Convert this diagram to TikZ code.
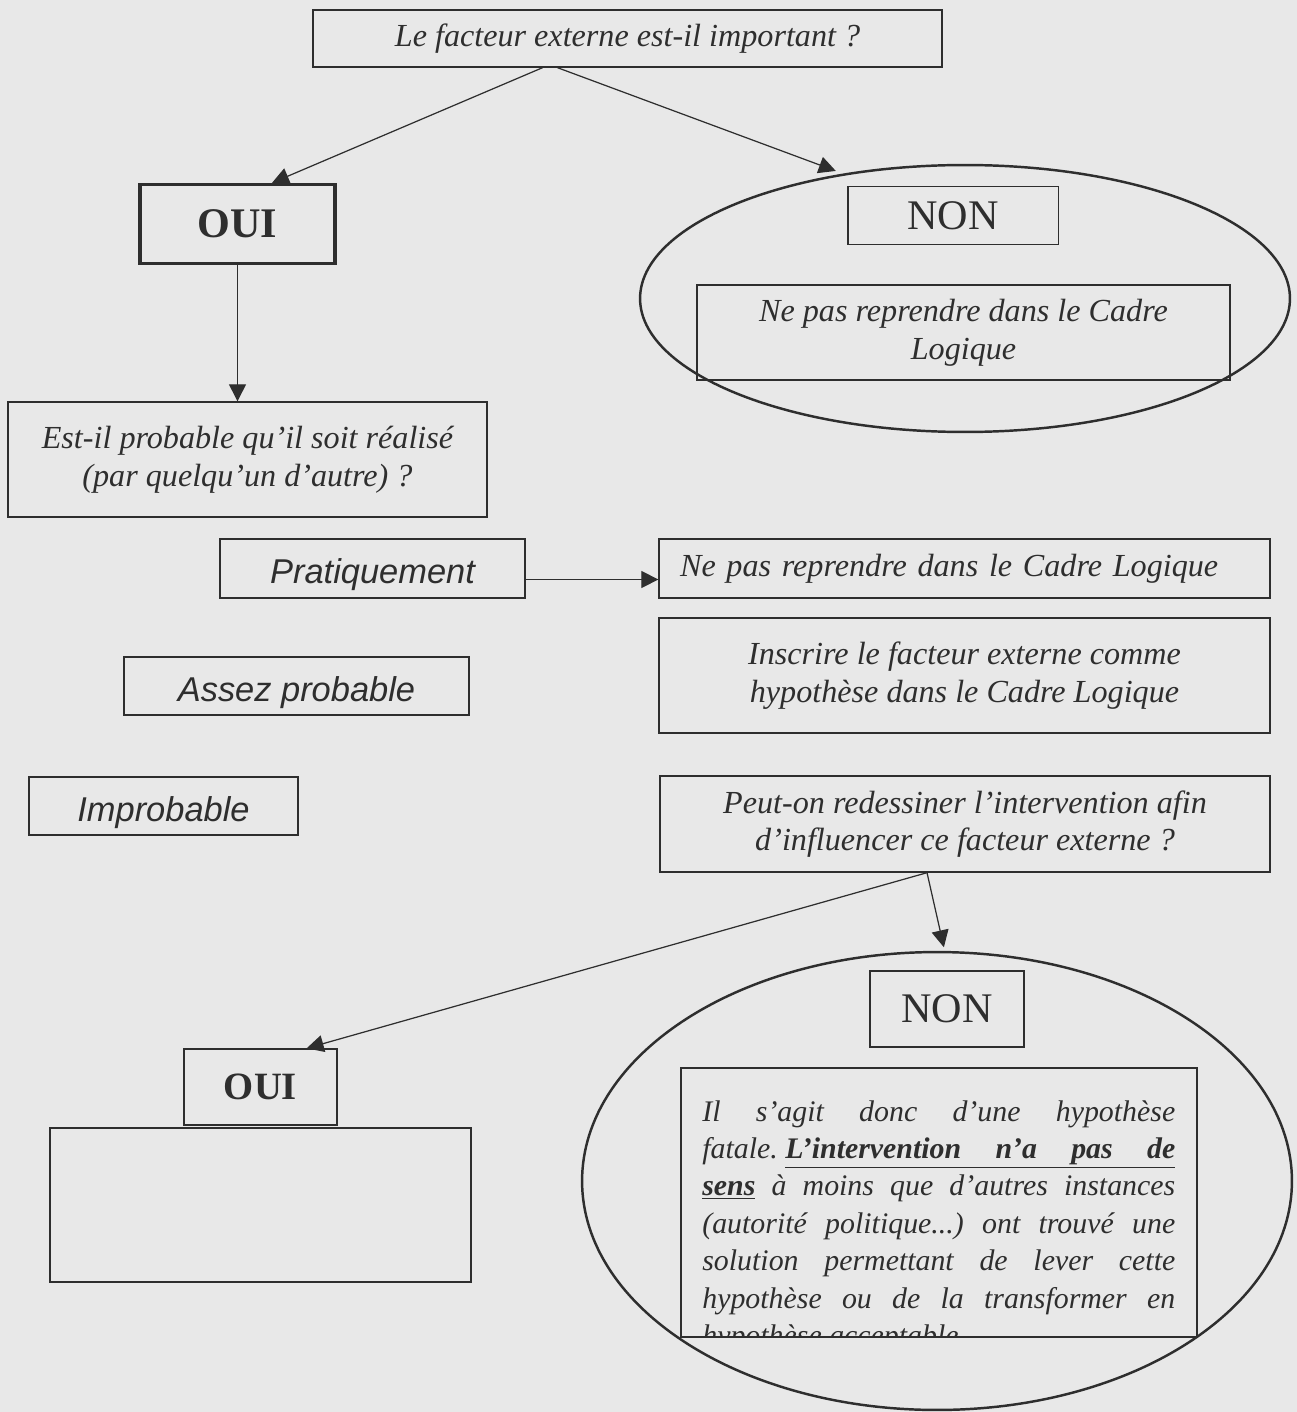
\documentclass[tikz,border=0pt]{standalone}
\usepackage{fontspec}
\setmainfont{Liberation Serif}
\newfontfamily\sansfamille{Liberation Sans}
\usetikzlibrary{arrows.meta, shapes.geometric}
\definecolor{papier}{gray}{0.91}
\definecolor{encre}{gray}{0.18}
\newsavebox{\boitefatale}
\newcommand{\textequestion}{\fontsize{18.3}{21.5}\selectfont\itshape}
\newcommand{\textecourant}{\fontsize{17}{21.3}\selectfont\itshape}
\newcommand{\textechoix}{\sansfamille\fontsize{19.6}{23}\selectfont\itshape}
\newcommand{\texteoui}{\fontsize{24}{28}\selectfont\bfseries}
\newcommand{\textenon}{\fontsize{24}{28}\selectfont}

\tikzset{
  cadre/.style={draw=encre, line width=0.8pt, inner sep=0pt, align=center, text=encre},
  question/.style={cadre, font=\textequestion},
  choix/.style={cadre, font=\textechoix, text height=0.76cm},
  reponse/.style={cadre, font=\texteoui},
  zone/.style={draw=encre, line width=1.4pt, ellipse, inner sep=0pt, outer sep=0pt},
  fleche/.style={draw=encre, line width=0.7pt, -{Triangle[length=0.34cm, width=0.34cm]}}
}

\begin{document}
\begin{tikzpicture}[x=0.02cm, y=-0.02cm]
  \fill[papier] (0,0) rectangle (1297,1412);
  \useasboundingbox (0,0) rectangle (1297,1412);

  % premiere question et ses deux reponses
  \node[question, minimum width=12.58cm, minimum height=1.14cm] (q1) at (627.5,38.5) {Le facteur externe est-il important ?};
  \node[reponse, line width=1.8pt, minimum width=3.9cm, minimum height=1.58cm] (oui) at (237.5,224) {OUI};
  \node[zone, minimum width=13cm, minimum height=5.34cm] (nonzone) at (965,298.5) {};
  \node[cadre, line width=1.1pt, font=\textenon, minimum width=4.22cm, minimum height=1.16cm] (non) at (953,215.5) {NON};
  \node[question, line width=1.1pt, minimum width=10.66cm, minimum height=1.9cm] (exclu) at (963.5,332.5) {Ne pas reprendre dans le Cadre\\Logique};

  % probabilite
  \node[question, minimum width=9.58cm, minimum height=2.3cm] (q2) at (247.5,459.5) {Est-il probable qu’il soit réalisé\\(par quelqu’un d’autre) ?};
  \node[choix, minimum width=6.1cm, minimum height=1.18cm] (prat) at (372.5,568.5) {Pratiquement};
  \node[choix, minimum width=6.9cm, minimum height=1.16cm] (assez) at (296.5,686) {Assez probable};
  \node[choix, minimum width=5.38cm, minimum height=1.16cm] (improb) at (163.5,806) {Improbable};
  \node[question, minimum width=12.22cm, minimum height=1.18cm, inner xsep=0.42cm, text width=11.38cm, align=left] (nepas) at (964.5,568.5) {Ne pas reprendre dans le Cadre Logique};
  \node[question, minimum width=12.22cm, minimum height=2.3cm] (inscrire) at (964.5,675.5) {Inscrire le facteur externe comme\\hypothèse dans le Cadre Logique};
  \node[question, minimum width=12.2cm, minimum height=1.92cm] (peut) at (965,824) {Peut-on redessiner l’intervention afin\\d’influencer ce facteur externe ?};
  \coordinate (split) at ([xshift=-0.76cm]peut.south);

  % seconde alternative
  \node[reponse, font=\fontsize{22}{26}\selectfont\bfseries, minimum width=3.06cm, minimum height=1.52cm] (oui2) at (260.5,1087) {OUI};
  \node[cadre, minimum width=8.42cm, minimum height=3.08cm] (vide) at (260.5,1205) {};
  \node[zone, minimum width=14.2cm, minimum height=9.16cm] (nonzone2) at (937,1181) {};
  \node[cadre, font=\textenon, minimum width=3.08cm, minimum height=1.52cm] (non2) at (947,1009) {NON};
  \node[cadre, minimum width=10.32cm, minimum height=5.38cm] (fatale) at (939,1202.5) {};
  \begin{scope}
    \clip (fatale.north west) rectangle (fatale.south east);
    \node[anchor=north west, text width=9.46cm, align=justify, inner sep=0pt, font=\textecourant, text=encre] (fataletexte) at (702,1100)
      {\sbox{\boitefatale}{fatale.\ }Il s’agit donc d’une hypothèse\linebreak
       \mbox{fatale.\ \underline{\makebox[\dimexpr\hsize-\wd\boitefatale\relax][s]{\textbf{L’intervention n’a pas de}}}}\linebreak
       \underline{\textbf{sens}} à moins que d’autres instances\linebreak
       (autorité politique...)\ ont trouvé une\linebreak
       solution permettant de lever cette\linebreak
       hypothèse ou de la transformer en\linebreak
       hypothèse acceptable};
  \end{scope}

  % fleches
  \draw[fleche] ([xshift=-1.7cm]q1.south) -- (oui.50);
  \draw[fleche, shorten >=0.2cm] ([xshift=-1.4cm]q1.south) -- (nonzone.134);
  \draw[fleche] (oui.south) -- (oui.south |- q2.north);
  \draw[fleche] ([yshift=-0.22cm]prat.east) -- ([yshift=-0.22cm]nepas.west);
  \draw[fleche, shorten >=0.1cm] (split) -- (nonzone2.88);
  \draw[fleche] (split) -- (oui2.40);
\end{tikzpicture}
\end{document}
